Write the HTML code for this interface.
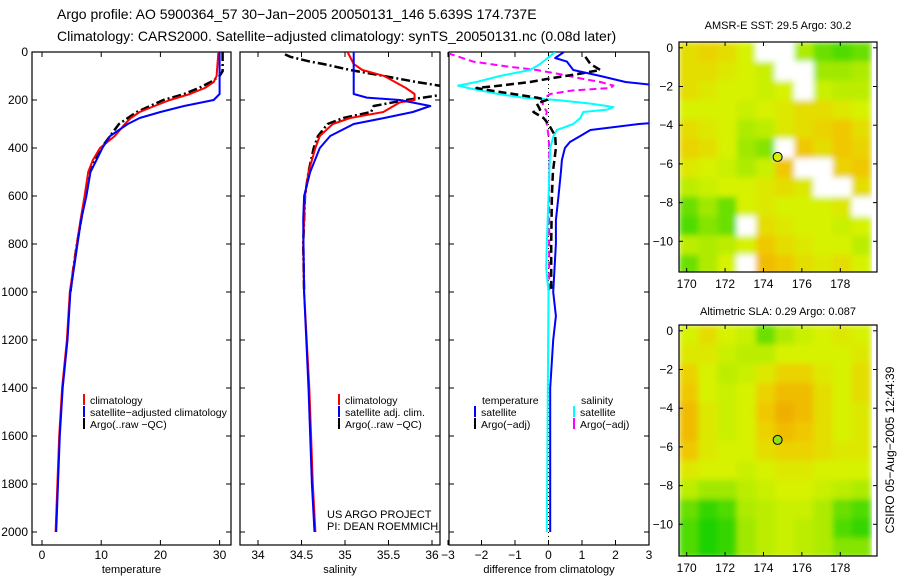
<!DOCTYPE html>
<html><head><meta charset="utf-8"><style>
html,body{margin:0;padding:0;background:#fff;}
svg{display:block;font-family:"Liberation Sans",sans-serif;}
</style></head><body>
<svg id="s" width="900" height="580" viewBox="0 0 900 580">
<defs><filter id="soft" x="0" y="0" width="1" height="1"><feGaussianBlur stdDeviation="3" edgeMode="duplicate"/></filter></defs>
<text x="57" y="19" font-size="14">Argo profile: AO 5900364_57 30−Jan−2005 20050131_146 5.639S 174.737E</text>
<text x="57" y="41" font-size="14">Climatology: CARS2000. Satellite−adjusted climatology: synTS_20050131.nc (0.08d later)</text>
<text x="778" y="29" font-size="11" text-anchor="middle">AMSR-E SST: 29.5 Argo: 30.2</text>
<text x="778" y="315" font-size="11" text-anchor="middle">Altimetric SLA: 0.29 Argo: 0.087</text>
<text transform="translate(894,450) rotate(-90)" font-size="12" text-anchor="middle">CSIRO 05−Aug−2005 12:44:39</text>
</svg>
<script>
// ---------- data ----------
const tDepth=[0,100,125,150,175,200,225,250,275,300,350,400,450,500,600,700,800,900,1000,1200,1400,1600,1800,2000];
const tClim=[29.8,29.5,29,27.5,25,21.6,19,16.5,15,14,12.3,9.8,8.6,7.8,7.2,6.5,5.9,5.3,4.7,4.2,3.4,2.9,2.6,2.3];
const tSatDepth=[0,175,200,225,250,275,300,325,350,400,450,500,600,700,800,900,1000,1200,1400,1600,1800,2000];
const tSat=[30,30,29,24,20,16.5,14.5,13,11.5,10.2,9.2,8.2,7.5,6.6,6,5.4,4.8,4.3,3.5,3,2.7,2.4];
const tArgoDepth=[0,80,100,125,150,175,200,250,300,350,400,500,600,700,800,900,1000];
const tArgo=[30.5,30.5,30,28.5,26.5,24,20.5,16,13,11.5,10,8,7.3,6.6,5.9,5.3,4.8];
const sDepth=[0,50,75,100,150,175,200,210,250,275,300,350,400,500,600,800,1000,1400,1600,1800,2000];
const sClim=[35.03,35.1,35.2,35.45,35.7,35.8,35.8,35.63,35.44,35.06,34.86,34.71,34.66,34.58,34.54,34.52,34.53,34.59,34.61,34.63,34.66];
const sSatDepth=[0,175,190,200,225,250,275,300,350,400,500,600,700,1000,1400,1600,1800,2000];
const sSat=[35.1,35.1,35.25,35.63,35.98,35.78,35.45,35.1,34.83,34.71,34.6,34.53,34.52,34.53,34.58,34.6,34.62,34.65];
const sArgoDepth=[10,20,40,50,75,100,125,140,160,180,190,200,225,250,275,300,350,400,500,600,800,1000];
const sArgo=[34.31,34.37,34.6,34.75,35.06,35.45,35.82,36.08,36.3,36.08,35.9,35.7,35.33,35.3,34.98,34.8,34.69,34.64,34.58,34.54,34.52,34.53];
const dTSatDepth=[0,25,40,75,100,125,150,200,297,300,325,350,375,400,450,500,600,700,800,1000,1100,1200,1400,2000];
const dTSat=[0.46,0.2,0.55,0.74,1.55,2.3,4,4,3,2.7,1.25,0.95,0.64,0.49,0.4,0.37,0.3,0.22,0.22,0.14,0.22,0.14,0.05,0.05];
const dTArgoDepth=[20,50,75,90,110,125,140,150,160,175,190,200,215,240,250,275,300,350,400,500,600,800,1000];
const dTArgo=[1.1,1.25,1.55,0.95,0.05,-0.55,-1.45,-2.15,-1.75,-1.05,-0.35,-0.05,-0.35,-0.25,-0.45,-0.15,0,0.2,0.22,0.13,0.1,0.08,0.08];
const dSSatDepth=[0,50,75,100,125,140,150,175,190,200,215,225,230,240,250,275,300,325,350,400,600,800,900,1000,2000];
const dSSat=[0.2,-0.25,-0.55,-1.45,-2.15,-2.7,-2.4,-1.5,-0.76,0.25,1.25,1.75,1.94,1.75,1.04,0.95,0.74,0.25,0.15,0.05,0,-0.05,-0.07,0,-0.05];
const dSArgoDepth=[5,40,60,75,90,110,125,140,150,160,175,200,225,250,275,300,350,400,700,1000];
const dSArgo=[-3,-2.25,-1.25,-0.35,0.25,0.95,1.55,1.94,1.85,0.74,0.05,-0.2,-0.15,-0.05,-0.1,-0.05,0,0.02,0.02,0.02];
const depthTicks=[0,200,400,600,800,1000,1200,1400,1600,1800,2000];
const tTicks=[0,10,20,30];
const sTicks=[34,34.5,35,35.5,36];
const sTickLabels=["34","34.5","35","35.5","36"];
const dTicks=[-3,-2,-1,0,1,2,3];
const lonTicks=[170,172,174,176,178];
const latTicks=[0,-2,-4,-6,-8,-10];
const sstField=[
[0.6,0.65,0.6,0.5,-1,-1,0.35,0.2,0.15,0.2],
[0.6,0.6,0.55,0.5,0.45,-1,-1,0.3,0.3,0.35],
[0.6,0.55,0.5,0.5,0.45,0.5,-1,0.45,0.4,0.4],
[0.5,0.5,0.5,0.45,0.5,0.55,0.6,0.6,0.55,0.5],
[0.6,0.55,0.5,0.35,0.4,0.55,0.6,0.65,0.7,0.6],
[0.65,0.6,0.5,0.3,0.25,-1,0.7,0.6,0.7,0.65],
[0.55,0.5,0.45,0.35,0.45,0.7,-1,-1,0.65,0.7],
[0.4,0.45,0.5,0.5,0.55,0.6,0.55,-1,-1,0.6],
[0.2,0.3,0.2,0.5,0.55,0.5,0.5,0.5,0.55,-1],
[0.15,0.25,0.2,-1,0.6,0.55,0.5,0.5,0.45,0.5],
[0.4,0.35,0.4,0.5,0.7,0.6,0.55,0.5,0.5,0.4],
[0.2,0.35,0.5,-1,0.75,0.7,0.6,0.55,0.6,0.5]];
const slaField=[
[0.5,0.6,0.5,0.45,0.2,0.35,0.45,0.5,0.55,0.5],
[0.55,0.55,0.45,0.4,0.4,0.5,0.5,0.5,0.5,0.55],
[0.65,0.5,0.4,0.45,0.55,0.65,0.65,0.55,0.5,0.6],
[0.7,0.5,0.45,0.5,0.65,0.75,0.75,0.6,0.5,0.6],
[0.75,0.55,0.45,0.5,0.7,0.8,0.75,0.6,0.5,0.55],
[0.75,0.55,0.45,0.5,0.65,0.75,0.7,0.6,0.5,0.55],
[0.7,0.55,0.5,0.5,0.6,0.65,0.65,0.6,0.55,0.55],
[0.55,0.5,0.5,0.45,0.5,0.55,0.55,0.5,0.5,0.5],
[0.4,0.3,0.3,0.4,0.45,0.5,0.5,0.45,0.4,0.35],
[0.2,0.1,0.15,0.35,0.4,0.45,0.45,0.35,0.2,0.15],
[0.15,0.05,0.1,0.3,0.4,0.45,0.4,0.35,0.15,0.1],
[0.15,0.05,0.1,0.3,0.4,0.45,0.4,0.35,0.25,0.25]];
const argoLon=174.737, argoLat=-5.639;

// ---------- drawing ----------
const NS='http://www.w3.org/2000/svg';
const svg=document.getElementById('s');
function mk(tag,attrs,parent){const e=document.createElementNS(NS,tag);for(const k in attrs)e.setAttribute(k,attrs[k]);(parent||svg).appendChild(e);return e;}
const yD=d=>52+0.24*d;
const TOP=52,BOT=545;
const panels=[
 {name:'temperature',l:32,r:231,x:v=>42+5.92*v,ticks:tTicks,labels:tTicks.map(String),title:'temperature'},
 {name:'salinity',l:240,r:440,x:v=>258+87*(v-34),ticks:sTicks,labels:sTickLabels,title:'salinity'},
 {name:'difference',l:449,r:649,x:v=>548.5+33.5*v,ticks:dTicks,labels:dTicks.map(v=>v<0?'−'+(-v):String(v)),title:'difference from climatology'}];
panels.forEach((p,i)=>{
  const g=mk('g',{});
  
  
  const cp=mk('clipPath',{id:'cp'+i},g);mk('rect',{x:p.l,y:TOP,width:p.r-p.l,height:BOT-TOP},cp);
  const fr=mk('rect',{x:p.l,y:TOP,width:p.r-p.l,height:BOT-TOP,fill:'none',stroke:'#000','stroke-width':1.2},g);
  
  p.ticks.forEach((t,j)=>{const x=p.x(t);
    mk('line',{x1:x,x2:x,y1:BOT,y2:BOT-5,stroke:'#000'},g);mk('line',{x1:x,x2:x,y1:TOP,y2:TOP+5,stroke:'#000'},g);
    const tx=mk('text',{x:x,y:559,'font-size':12,'text-anchor':'middle'},g);tx.textContent=p.labels[j];
    });
  depthTicks.forEach(d=>{const y=yD(d);
    mk('line',{x1:p.l,x2:p.l+5,y1:y,y2:y,stroke:'#000'},g);mk('line',{x1:p.r,x2:p.r-5,y1:y,y2:y,stroke:'#000'},g);});
  const at=mk('text',{x:(p.l+p.r)/2,y:573,'font-size':11,'text-anchor':'middle'},g);at.textContent=p.title;
  
  p.g=g;p.clip='url(#cp'+i+')';
});
depthTicks.forEach(d=>{const t=mk('text',{x:28,y:yD(d)+4,'font-size':12,'text-anchor':'end'});t.textContent=d;
  });
function series(p,depths,vals,color,w,dash,name){
  const pts=depths.map((d,i)=>p.x(vals[i]).toFixed(1)+','+yD(d).toFixed(1)).join(' ');
  const a={points:pts,fill:'none',stroke:color,'stroke-width':w,'clip-path':p.clip,'stroke-linejoin':'round'};
  if(dash)a['stroke-dasharray']=dash;
  const e=mk('polyline',a,p.g);
  
}
const P0=panels[0],P1=panels[1],P2=panels[2];
series(P0,tArgoDepth,tArgo,'#000',2.5,'9,3,2,3','temp-argo-line');
series(P0,tDepth,tClim,'#f00',2,null,'temp-climatology-line');
series(P0,tSatDepth,tSat,'#00f',2,null,'temp-satellite-line');
series(P1,sArgoDepth,sArgo,'#000',2.5,'9,3,2,3','sal-argo-line');
series(P1,sDepth,sClim,'#f00',2,null,'sal-climatology-line');
series(P1,sSatDepth,sSat,'#00f',2,null,'sal-satellite-line');
const zl=mk('line',{x1:P2.x(0),x2:P2.x(0),y1:TOP,y2:BOT,stroke:'#000','stroke-width':1,'stroke-dasharray':'1,3'},P2.g);

series(P2,dSArgoDepth,dSArgo,'#f0f',2,'7,4','diff-sal-argo-line');
series(P2,dSSatDepth,dSSat,'#0ff',2,null,'diff-sal-satellite-line');
series(P2,dTArgoDepth,dTArgo,'#000',2.5,'8,4','diff-temp-argo-line');
series(P2,dTSatDepth,dTSat,'#00f',2,null,'diff-temp-satellite-line');
function leg(x,y,color,text,name){
  if(color){const l=mk('line',{x1:x,x2:x,y1:y-10,y2:y+1,stroke:color,'stroke-width':2});
    }
  const t=mk('text',{x:x+6,y:y,'font-size':10.5});t.textContent=text;
  
}
leg(84,404,'#f00','climatology','legend-temp-climatology');
leg(84,416,'#00f','satellite−adjusted climatology','legend-temp-satellite');
leg(84,428,'#000','Argo(..raw −QC)','legend-temp-argo');
leg(339,404,'#f00','climatology','legend-sal-climatology');
leg(339,416,'#00f','satellite adj. clim.','legend-sal-satellite');
leg(339,428,'#000','Argo(..raw −QC)','legend-sal-argo');
leg(476,404,null,'temperature','legend-diff-temp-header');
leg(475,416,'#00f','satellite','legend-diff-temp-satellite');
leg(475,428,'#000','Argo(−adj)','legend-diff-temp-argo');
leg(575,404,null,'salinity','legend-diff-sal-header');
leg(574,416,'#0ff','satellite','legend-diff-sal-satellite');
leg(574,428,'#f0f','Argo(−adj)','legend-diff-sal-argo');
const u1=mk('text',{x:327,y:518,'font-size':11});u1.textContent='US ARGO PROJECT';

const u2=mk('text',{x:327,y:530,'font-size':11});u2.textContent='PI: DEAN ROEMMICH';


function col(v){
  const stops=[[0,[0,205,0]],[0.3,[160,232,0]],[0.5,[215,242,0]],[0.7,[240,200,0]],[0.9,[240,150,0]],[1,[240,130,0]]];
  v=Math.max(0,Math.min(1,v));
  for(let i=1;i<stops.length;i++){if(v<=stops[i][0]){const a=stops[i-1],b=stops[i],f=(v-a[0])/(b[0]-a[0]);
    return 'rgb('+a[1].map((c,k)=>Math.round(c+(b[1][k]-c)*f)).join(',')+')';}}
  return 'rgb(240,130,0)';
}
function map(top,bot,field,circleFill,name){
  const L=679,R=877,lon0=169.6,lat0=0.3,sx=19.2,sy=19.35;
  const X=lon=>L+(lon-lon0)*sx, Y=lat=>top+(lat0-lat)*sy;
  const g=mk('g',{});
  const cp=mk('clipPath',{id:'cp'+name},g);mk('rect',{x:L,y:top,width:R-L,height:bot-top},cp);
  const outer=mk('g',{'clip-path':'url(#cp'+name+')'},g);
  const cg=mk('g',{filter:'url(#soft)'},outer);
  field.forEach((row,r)=>row.forEach((v,c)=>{
    const cell=mk('rect',{x:X(lon0+c).toFixed(1),y:Y(lat0-r).toFixed(1),width:sx+0.6,height:sy+0.6,fill:v<0?'#fff':col(v)},cg);
    
  }));
  mk('rect',{x:L,y:top,width:R-L,height:bot-top,fill:'none',stroke:'#000','stroke-width':1.2},g);
  lonTicks.forEach(l=>{const x=X(l);mk('line',{x1:x,x2:x,y1:bot,y2:bot-4,stroke:'#000'},g);mk('line',{x1:x,x2:x,y1:top,y2:top+4,stroke:'#000'},g);
    const t=mk('text',{x:x,y:bot+16,'font-size':12,'text-anchor':'middle'},g);t.textContent=l;
    });
  latTicks.forEach(l=>{const y=Y(l);mk('line',{x1:L,x2:L+4,y1:y,y2:y,stroke:'#000'},g);mk('line',{x1:R,x2:R-4,y1:y,y2:y,stroke:'#000'},g);
    const t=mk('text',{x:673,y:y+4,'font-size':12,'text-anchor':'end'},g);t.textContent=l<0?'−'+(-l):l;
    });
  const c=mk('circle',{cx:X(argoLon),cy:Y(argoLat),r:4.5,fill:circleFill,stroke:'#000','stroke-width':1},g);
  
}
map(42,272,sstField,'#d8f000','sst-map');
map(325,556,slaField,'#90e020','sla-map');
</script>
</body></html>
